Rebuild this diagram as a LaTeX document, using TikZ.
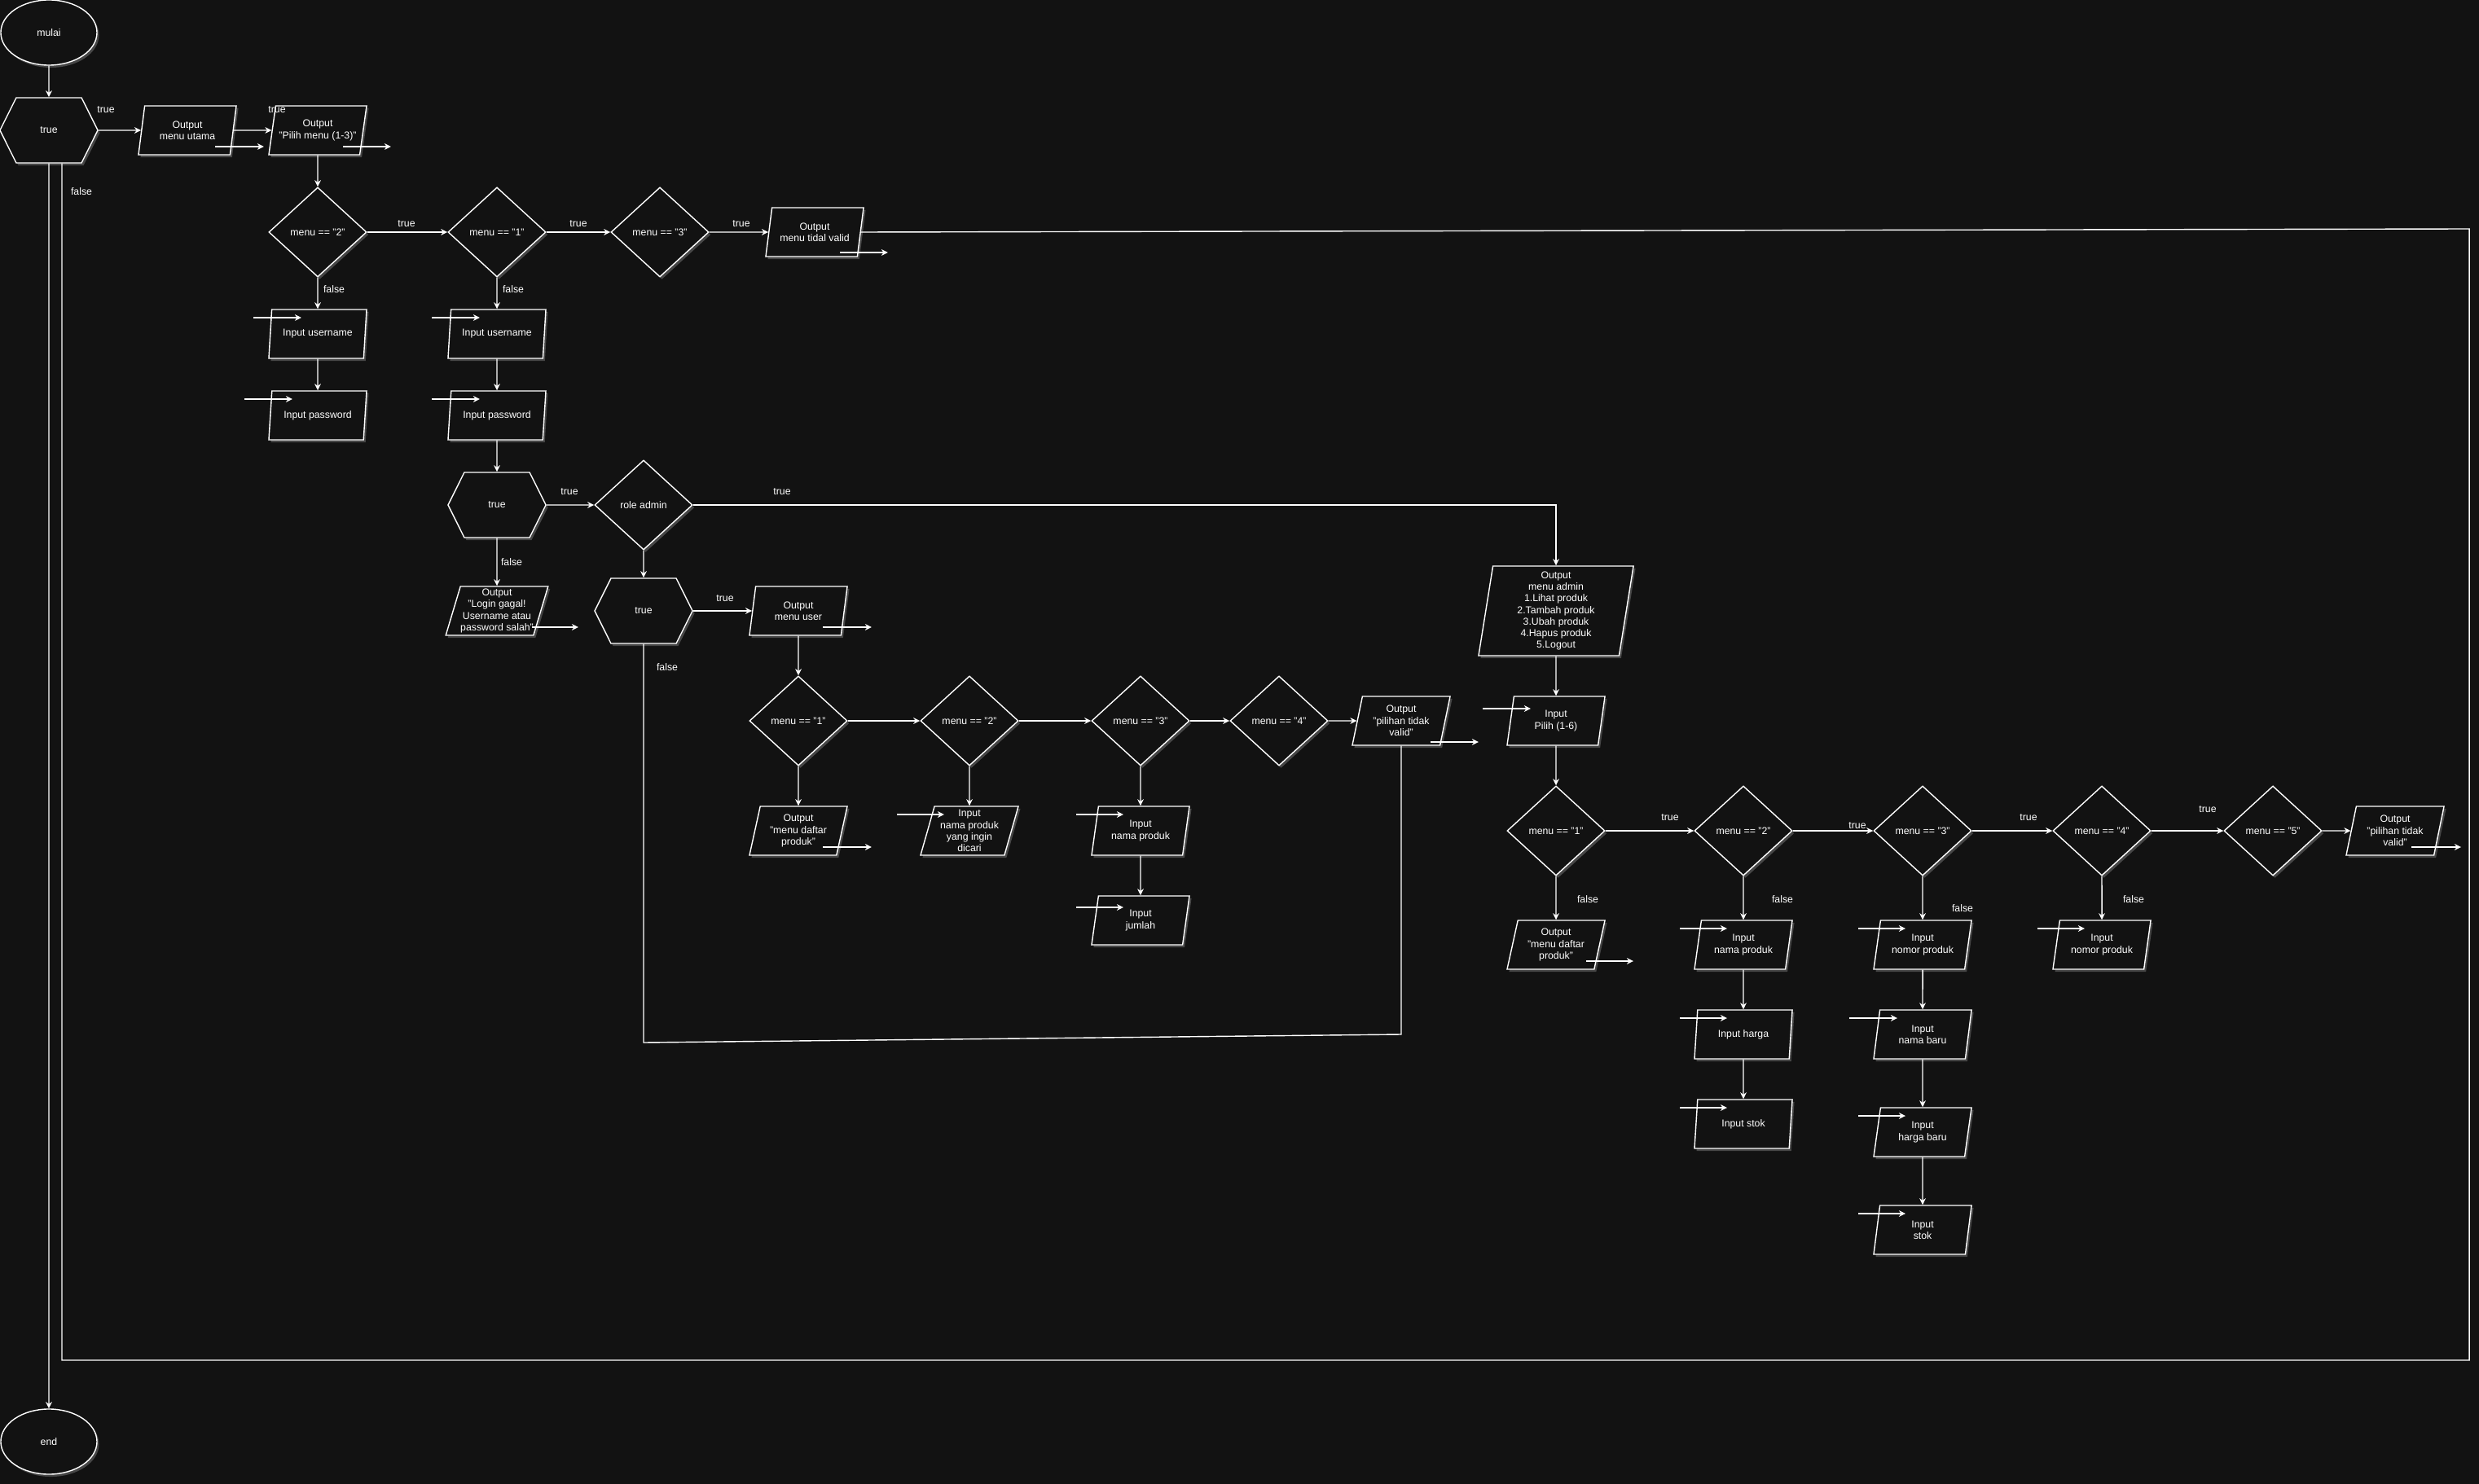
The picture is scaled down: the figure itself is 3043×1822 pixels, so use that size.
\documentclass[tikz,border=0pt]{standalone}
\usepackage{fontspec}
\setmainfont{Liberation Sans}
\usetikzlibrary{shapes.geometric,shapes.symbols,shadows,arrows.meta}
\definecolor{canvas}{RGB}{18,18,18}
\newcommand\flowfont{\fontsize{3.5}{4.07}\selectfont}
\tikzset{
  box/.style={draw=white, line width=0.4pt, fill=canvas, text=white, font=\flowfont, align=center, inner sep=0pt,
    drop shadow={shadow xshift=0.025cm, shadow yshift=-0.03cm, fill=white, opacity=0.22}},
  terminal/.style={box, ellipse, minimum width=1.18cm, minimum height=0.8cm},
  hexa/.style={box, signal, signal to=east and west, signal pointer angle=126.9, minimum width=1.2cm, minimum height=0.8cm},
  io/.style={box, trapezium, trapezium left angle=71.6, trapezium right angle=108.4, trapezium stretches body, minimum width=1.2cm, minimum height=0.6cm},
  cond/.style={box, diamond, minimum width=1.2cm, minimum height=1.1cm},
  wire/.style={draw=white, line width=0.4pt},
  flow/.style={wire, -{Stealth[length=2.3pt, width=2.2pt]}},
  stub/.style={flow},
  lbl/.style={text=white, font=\flowfont, inner sep=0pt},
}
\begin{document}
\begin{tikzpicture}[x=0.01cm, y=-0.01cm]
\useasboundingbox (0,0) rectangle (3043,1822);
\fill[canvas] (0,0) rectangle (3043,1822);
\node[terminal] (mulai) at (60,40) {mulai};
\node[hexa] (loop) at (60,160) {true};
\node[io] (utama) at (230,160) {Output\\menu utama};
\node[io] (pilih) at (390,160) {Output\\"Pilih menu (1-3)"};
\node[cond] (cek2) at (390,285) {menu == "2"};
\node[cond] (cek1) at (610,285) {menu == "1"};
\node[cond] (cek3) at (810,285) {menu == "3"};
\node[io] (salah) at (1000,285) {Output\\menu tidal valid};
\node[io] (uname1) at (390,410) {Input username};
\node[io] (pass1) at (390,510) {Input password};
\node[io] (uname2) at (610,410) {Input username};
\node[io] (pass2) at (610,510) {Input password};
\node[hexa] (login) at (610,620) {true};
\node[cond] (role) at (790,620) {role admin};
\node[io] (gagal) at (610,750) {Output\\"Login gagal!\\Username atau\\password salah"};
\node[hexa] (userloop) at (790,750) {true};
\node[io] (menuuser) at (980,750) {Output\\menu user};
\node[cond] (user1) at (980,885) {menu == "1"};
\node[cond] (user2) at (1190,885) {menu == "2"};
\node[cond] (user3) at (1400,885) {menu == "3"};
\node[cond] (user4) at (1570,885) {menu == "4"};
\node[io] (userinvalid) at (1720,885) {Output\\"pilihan tidak\\valid"};
\node[io] (userdaftar) at (980,1020) {Output\\"menu daftar\\produk"};
\node[io] (usercari) at (1190,1020) {Input\\nama produk\\yang ingin\\dicari};
\node[io] (usernama) at (1400,1020) {Input\\nama produk};
\node[io] (userjumlah) at (1400,1130) {Input\\jumlah};
\node[io, minimum width=1.9cm, minimum height=1.1cm, trapezium left angle=79.7, trapezium right angle=100.3] (menuadmin) at (1910,750) {Output\\menu admin\\1.Lihat produk\\2.Tambah produk\\3.Ubah produk\\4.Hapus produk\\5.Logout};
\node[io] (pilihadmin) at (1910,885) {Input\\Pilih (1-6)};
\node[cond] (admin1) at (1910,1020) {menu == "1"};
\node[cond] (admin2) at (2140,1020) {menu == "2"};
\node[cond] (admin3) at (2360,1020) {menu == "3"};
\node[cond] (admin4) at (2580,1020) {menu == "4"};
\node[cond] (admin5) at (2790,1020) {menu == "5"};
\node[io] (admininvalid) at (2940,1020) {Output\\"pilihan tidak\\valid"};
\node[io] (admindaftar) at (1910,1160) {Output\\"menu daftar\\produk"};
\node[io] (tambahnama) at (2140,1160) {Input\\nama produk};
\node[io] (tambahharga) at (2140,1270) {Input harga};
\node[io] (tambahstok) at (2140,1380) {Input stok};
\node[io] (ubahnomor) at (2360,1160) {Input\\nomor produk};
\node[io] (ubahnama) at (2360,1270) {Input\\nama baru};
\node[io] (ubahharga) at (2360,1390) {Input\\harga baru};
\node[io] (ubahstok) at (2360,1510) {Input\\stok};
\node[io] (hapusnomor) at (2580,1160) {Input\\nomor produk};
\node[terminal] (selesai) at (60,1770) {end};
\draw[flow] (mulai) -- (loop);
\draw[flow] (loop) -- (utama);
\draw[flow] (utama) -- (pilih);
\draw[flow] (pilih) -- (cek2);
\draw[flow] (cek2) -- (cek1);
\draw[flow] (cek1) -- (cek3);
\draw[flow] (cek3) -- (salah);
\draw[wire] (salah.east) -- (3031,281) -- (3031,1670) -- (76,1670) -- ([xshift=0.16cm]loop.south);
\draw[flow] (loop) -- (selesai);
\draw[flow] (cek2) -- (uname1);
\draw[flow] (uname1) -- (pass1);
\draw[flow] (cek1) -- (uname2);
\draw[flow] (uname2) -- (pass2);
\draw[flow] (pass2) -- (login);
\draw[flow] (login) -- (role);
\draw[flow] (login) -- (gagal);
\draw[flow] (role) -| (menuadmin);
\draw[flow] (role) -- (userloop);
\draw[flow] (userloop) -- (menuuser);
\draw[wire] (userloop.south) -- (790,1280) -- (1720,1270) -- (userinvalid);
\draw[flow] (menuuser) -- (user1);
\draw[flow] (user1) -- (user2);
\draw[flow] (user2) -- (user3);
\draw[flow] (user3) -- (user4);
\draw[flow] (user4) -- (userinvalid);
\draw[flow] (user1) -- (userdaftar);
\draw[flow] (user2) -- (usercari);
\draw[flow] (user3) -- (usernama);
\draw[flow] (usernama) -- (userjumlah);
\draw[flow] (menuadmin) -- (pilihadmin);
\draw[flow] (pilihadmin) -- (admin1);
\draw[flow] (admin1) -- (admin2);
\draw[flow] (admin2) -- (admin3);
\draw[flow] (admin3) -- (admin4);
\draw[flow] (admin4) -- (admin5);
\draw[flow] (admin5) -- (admininvalid);
\draw[flow] (admin1) -- (admindaftar);
\draw[flow] (admin2) -- (tambahnama);
\draw[flow] (tambahnama) -- (tambahharga);
\draw[flow] (tambahharga) -- (tambahstok);
\draw[flow] (admin3) -- (ubahnomor);
\draw[flow] (ubahnomor) -- (ubahnama);
\draw[flow] (ubahnama) -- (ubahharga);
\draw[flow] (ubahharga) -- (ubahstok);
\draw[flow] (admin4) -- (hapusnomor);
\draw[stub] ([shift={(34,20)}]utama.center) -- ++(60,0);
\draw[stub] ([shift={(31,20)}]pilih.center) -- ++(59,0);
\draw[stub] ([shift={(31,25)}]salah.center) -- ++(59,0);
\draw[stub] ([shift={(43,20)}]gagal.center) -- ++(57,0);
\draw[stub] ([shift={(30,20)}]menuuser.center) -- ++(60,0);
\draw[stub] ([shift={(30,20)}]userdaftar.center) -- ++(60,0);
\draw[stub] ([shift={(36,26)}]userinvalid.center) -- ++(59,0);
\draw[stub] ([shift={(37,20)}]admindaftar.center) -- ++(58,0);
\draw[stub] ([shift={(20,20)}]admininvalid.center) -- ++(61,0);
\draw[stub] ([shift={(-79,-20)}]uname1.center) -- ++(59,0);
\draw[stub] ([shift={(-90,-20)}]pass1.center) -- ++(59,0);
\draw[stub] ([shift={(-80,-20)}]uname2.center) -- ++(59,0);
\draw[stub] ([shift={(-80,-20)}]pass2.center) -- ++(59,0);
\draw[stub] ([shift={(-89,-20)}]usercari.center) -- ++(58,0);
\draw[stub] ([shift={(-79,-20)}]usernama.center) -- ++(58,0);
\draw[stub] ([shift={(-79,-16)}]userjumlah.center) -- ++(58,0);
\draw[stub] ([shift={(-90,-15)}]pilihadmin.center) -- ++(59,0);
\draw[stub] ([shift={(-78,-20)}]tambahnama.center) -- ++(58,0);
\draw[stub] ([shift={(-78,-20)}]tambahharga.center) -- ++(58,0);
\draw[stub] ([shift={(-78,-20)}]tambahstok.center) -- ++(58,0);
\draw[stub] ([shift={(-79,-20)}]ubahnomor.center) -- ++(58,0);
\draw[stub] ([shift={(-90,-20)}]ubahnama.center) -- ++(59,0);
\draw[stub] ([shift={(-79,-20)}]ubahharga.center) -- ++(58,0);
\draw[stub] ([shift={(-79,-20)}]ubahstok.center) -- ++(58,0);
\draw[stub] ([shift={(-79,-20)}]hapusnomor.center) -- ++(58,0);
\node[lbl] (lt1) at (130,135) {true};
\node[lbl] (lt2) at (340,135) {true};
\node[lbl] (lf1) at (100,235) {false};
\node[lbl] (lt3) at (499,275) {true};
\node[lbl] (lt4) at (710,275) {true};
\node[lbl] (lt5) at (910,275) {true};
\node[lbl] (lf2) at (410,355) {false};
\node[lbl] (lf3) at (630,355) {false};
\node[lbl] (lt6) at (699,604) {true};
\node[lbl] (lt7) at (960,604) {true};
\node[lbl] (lf4) at (628,690) {false};
\node[lbl] (lt8) at (890,735) {true};
\node[lbl] (lf5) at (819,819) {false};
\node[lbl] (lt9) at (2050,1004) {true};
\node[lbl] (lt10) at (2280,1014) {true};
\node[lbl] (lt11) at (2490,1004) {true};
\node[lbl] (lt12) at (2710,994) {true};
\node[lbl] (lf6) at (1949,1104) {false};
\node[lbl] (lf7) at (2188,1104) {false};
\node[lbl] (lf8) at (2409,1115) {false};
\node[lbl] (lf9) at (2619,1104) {false};
\end{tikzpicture}
\end{document}
